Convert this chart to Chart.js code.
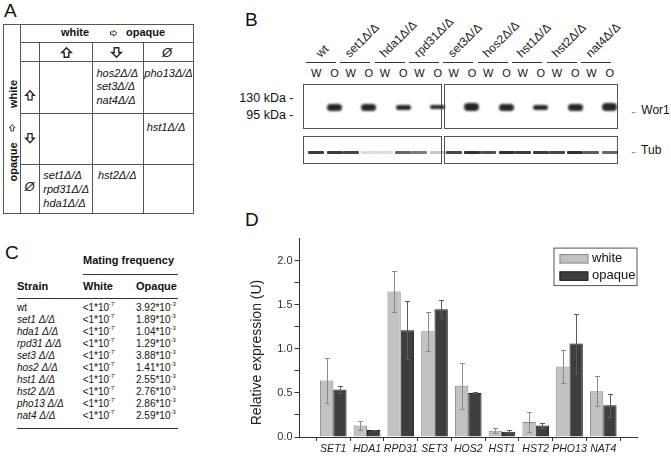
<!DOCTYPE html>
<html><head><meta charset="utf-8">
<script src="https://cdn.jsdelivr.net/npm/chart.js@4.4.1/dist/chart.umd.min.js"></script>
<style>
html,body{margin:0;padding:0;background:#fff;}
body{width:671px;height:460px;position:relative;overflow:hidden;font-family:"Liberation Sans",Arial,sans-serif;color:#111;}
.t{position:absolute;white-space:nowrap;line-height:1;}
.ln{position:absolute;background:#555;}
.box{position:absolute;border:1px solid #555;box-sizing:border-box;background:#fff;}
.band{position:absolute;background:#262626;border-radius:4px;filter:blur(0.9px);}
svg.ar{position:absolute;overflow:visible;}
sup{font-size:6px;vertical-align:5px;line-height:0;}
</style></head><body>
<div id="chartWrap" style="position:absolute;left:240px;top:230px;width:431px;height:230px;"><canvas id="c" width="431" height="230"></canvas></div>
<script>
// ---------- Panel D data ----------
const categories = ['SET1','HDA1','RPD31','SET3','HOS2','HST1','HST2','PHO13','NAT4'];
const whiteMean  = [0.64, 0.13, 1.65, 1.20, 0.58, 0.07, 0.17, 0.80, 0.52];
const whiteErr   = [0.26, 0.05, 0.23, 0.22, 0.26, 0.03, 0.11, 0.19, 0.17];
const opaqueMean = [0.54, 0.08, 1.21, 1.45, 0.50, 0.06, 0.13, 1.06, 0.36];
const opaqueErr  = [0.04, 0.005, 0.33, 0.10, 0.005, 0.015, 0.025, 0.33, 0.13];
const seriesNames = ['white', 'opaque'];
const yTitle = 'Relative expression (U)';

// ---------- Panel C data ----------
const matingStrains = ['wt','set1','hda1','rpd31','set3','hos2','hst1','hst2','pho13','nat4'];
const matingOpaque  = ['3.92','1.89','1.04','1.29','3.88','1.41','2.55','2.76','2.86','2.59'];

// ---------- Panel B data ----------
const blotStrains = ['wt','set1\u0394/\u0394','hda1\u0394/\u0394','rpd31\u0394/\u0394','set3\u0394/\u0394','hos2\u0394/\u0394','hst1\u0394/\u0394','hst2\u0394/\u0394','nat4\u0394/\u0394'];
const wor1Thick = [7, 7, 5, 4, 8, 7, 5, 7, 8];
const tubW = [0.9, 0.85, 0.15, 0.6, 0.85, 0.8, 0.9, 0.85, 0.75];
const tubO = [0.9, 0.15, 0.7, 0.25, 0.95, 0.95, 0.9, 0.95, 0.7];

const FONT = '"Liberation Sans", Arial, sans-serif';
function txt(s, x, cy, o = {}) {
  const d = document.createElement('div');
  d.className = 't';
  const fs = o.size || 11;
  d.style.fontSize = fs + 'px';
  d.style.top = (cy - fs * 0.52) + 'px';
  d.style.left = x + 'px';
  if (o.align === 'right') d.style.transform = 'translateX(-100%)';
  if (o.align === 'center') d.style.transform = 'translateX(-50%)';
  if (o.rot) { d.style.top = cy + 'px'; d.style.transform = 'translate(-50%,-50%) rotate(' + o.rot + 'deg)'; }
  if (o.bold) d.style.fontWeight = 'bold';
  if (o.italic) d.style.fontStyle = 'italic';
  if (o.color) d.style.color = o.color;
  if (o.html) d.innerHTML = s; else d.textContent = s;
  document.body.appendChild(d);
  return d;
}
function hline(x1, x2, y, c) { const d = document.createElement('div'); d.className = 'ln'; Object.assign(d.style, {left: x1 + 'px', top: y + 'px', width: (x2 - x1) + 'px', height: '1px'}); if (c) d.style.background = c; document.body.appendChild(d); }
function vline(x, y1, y2, c) { const d = document.createElement('div'); d.className = 'ln'; Object.assign(d.style, {left: x + 'px', top: y1 + 'px', width: '1px', height: (y2 - y1) + 'px'}); if (c) d.style.background = c; document.body.appendChild(d); }
function box(x1, y1, x2, y2) { const d = document.createElement('div'); d.className = 'box'; Object.assign(d.style, {left: x1 + 'px', top: y1 + 'px', width: (x2 - x1) + 'px', height: (y2 - y1) + 'px'}); document.body.appendChild(d); }
// outlined block arrow (symbol), dir: 0=up, 180=down, 90=right
function arrow(cx, cy, w, h, dir) {
  const ns = 'http://www.w3.org/2000/svg';
  const s = document.createElementNS(ns, 'svg');
  s.setAttribute('class', 'ar'); s.setAttribute('width', w); s.setAttribute('height', h);
  s.style.left = (cx - w / 2) + 'px'; s.style.top = (cy - h / 2) + 'px';
  s.setAttribute('viewBox', '0 0 12 12');
  s.setAttribute('preserveAspectRatio', 'none');
  const p = document.createElementNS(ns, 'polygon');
  p.setAttribute('points', '6,0.8 11.2,6 8.5,6 8.5,11.2 3.5,11.2 3.5,6 0.8,6');
  p.setAttribute('fill', '#fff'); p.setAttribute('stroke', '#222'); p.setAttribute('stroke-width', '1.5');
  p.setAttribute('stroke-linejoin', 'miter');
  p.setAttribute('transform', 'rotate(' + dir + ' 6 6)');
  s.appendChild(p);
  document.body.appendChild(s);
}

// Panel letters
txt('A', 4, 11, {size: 19});
txt('B', 245, 20, {size: 19});
txt('C', 5, 253, {size: 19});
txt('D', 245, 220, {size: 19});

// ---------- Panel A ----------
box(3, 24, 194, 214);
vline(20, 24, 213); hline(20, 193, 42);
[61, 113, 164].forEach(y => hline(20, 193, y));
[39, 92, 143].forEach(x => vline(x, 42, 213));
txt('white', 61, 33, {bold: true});
arrow(113.7, 33, 7.5, 6.5, 90);
txt('opaque', 126, 33, {bold: true});
txt('white', 12.7, 94, {bold: true, rot: -90});
arrow(12.7, 127.5, 6.5, 7.5, 0);
txt('opaque', 12.7, 161.5, {bold: true, rot: -90});
arrow(66.7, 52, 11, 11, 0);
arrow(116.7, 52, 11, 11, 180);
txt('\u00D8', 167, 52.5, {size: 13, italic: true, align: 'center'});
arrow(29.5, 95, 10, 10.5, 0);
arrow(29.5, 138, 10, 10.5, 180);
txt('\u00D8', 29.5, 187, {size: 13, italic: true, align: 'center'});
const D = '\u0394/\u0394';
[['hos2', 73.3], ['set3', 87], ['nat4', 100.3]].forEach(([s, y]) => txt(s + D, 96.5, y, {italic: true}));
txt('pho13' + D, 144.3, 73.3, {italic: true});
txt('hst1' + D, 146.7, 127.7, {italic: true});
[['set1', 175.7], ['rpd31', 189.7], ['hda1', 203.3]].forEach(([s, y]) => txt(s + D, 43.3, y, {italic: true}));
txt('hst2' + D, 98, 175.7, {italic: true});

// ---------- Panel C ----------
txt('Mating frequency', 83, 260.7, {bold: true});
hline(83, 178, 274, '#333');
txt('Strain', 17, 286.7, {bold: true});
txt('White', 83, 286.7, {bold: true});
txt('Opaque', 136, 286.7, {bold: true});
hline(17, 178, 297.5, '#333');
matingStrains.forEach((s, i) => {
  const y = 308.5 + 11.93 * i;
  if (s === 'wt') txt(s, 17, y, {size: 10});
  else txt(s + ' ' + D, 17, y, {size: 10, italic: true});
  txt('&lt;1*10<sup>-7</sup>', 82.7, y, {size: 10, html: true});
  txt(matingOpaque[i] + '*10<sup>-3</sup>', 136, y, {size: 10, html: true});
});
hline(17, 178, 428.3, '#333');

// ---------- Panel B ----------
txt('130 kDa -', 293.5, 98.3, {align: 'right', size: 12.5});
txt('95 kDa -', 293.5, 115, {align: 'right', size: 12.5});
box(302.5, 84, 442, 128.5);
box(444, 84, 617.5, 128.5);
box(302.5, 135.5, 442, 163.5);
box(444, 135.5, 617.5, 163.5);
blotStrains.forEach((s, i) => {
  const gs = 305.7 + 34.4 * i;
  hline(gs, gs + 30, 62.3, '#333');
  const lab = txt(s, 0, 0, {size: 12, color: '#222'});
  lab.style.left = (gs + (i === 0 ? 15 : 10)) + 'px';
  lab.style.top = (58 - 12 * 0.85) + 'px';
  lab.style.transformOrigin = '0% 85%';
  lab.style.transform = 'rotate(-45deg)';
  txt('W', gs + 10.5, 73.3, {align: 'center'});
  txt('O', gs + 28.8, 73.3, {align: 'center'});
  // Wor1 band in opaque lane
  const b = document.createElement('div'); b.className = 'band';
  const h = wor1Thick[i];
  Object.assign(b.style, {left: (gs + 21) + 'px', top: (107.3 - h / 2) + 'px', width: '15px', height: h + 'px'});
  document.body.appendChild(b);
  // Tub bands
  [[tubW[i], gs + 10.5], [tubO[i], gs + 28.8]].forEach(([a, cx]) => {
    const t = document.createElement('div'); t.className = 'band';
    Object.assign(t.style, {left: (cx - 8) + 'px', top: '151px', width: '16px', height: '3px', opacity: a, borderRadius: '1px', filter: 'blur(0.5px)'});
    document.body.appendChild(t);
  });
});
txt('<span style="font-size:8px">\u2190</span> Wor1', 630, 110, {html: true, size: 12});
txt('<span style="font-size:8px">\u2190</span> Tub', 630, 150, {html: true, size: 12});

// ---------- Panel D (Chart.js) ----------
Chart.defaults.font.family = FONT;
const errorBars = {
  id: 'errorBars',
  afterDatasetsDraw(chart) {
    const ctx = chart.ctx, ys = chart.scales.y;
    chart.data.datasets.forEach((ds, di) => {
      const meta = chart.getDatasetMeta(di);
      ctx.save();
      ctx.strokeStyle = ds.errColor; ctx.lineWidth = 1;
      meta.data.forEach((el, i) => {
        const v = ds.data[i], e = ds.err[i];
        if (v == null || e == null) return;
        const x = Math.round(el.x) + 0.5;
        const yt = Math.round(ys.getPixelForValue(v + e)) + 0.5;
        const yb = Math.round(ys.getPixelForValue(v - e)) + 0.5;
        ctx.beginPath();
        ctx.moveTo(x, yt); ctx.lineTo(x, yb);
        ctx.moveTo(x - 2.5, yt); ctx.lineTo(x + 2.5, yt);
        ctx.moveTo(x - 2.5, yb); ctx.lineTo(x + 2.5, yb);
        ctx.stroke();
      });
      ctx.restore();
    });
  }
};
const legendBox = {
  id: 'legendBox',
  afterDraw(chart) {
    const ctx = chart.ctx, a = chart.chartArea;
    const bx = a.right - 83.5, by = a.top + 9;
    ctx.save();
    ctx.fillStyle = '#fff'; ctx.fillRect(bx, by, 83, 37.5);
    ctx.strokeStyle = '#555'; ctx.lineWidth = 1;
    ctx.strokeRect(bx + 0.5, by + 0.5, 83, 37.5);
    chart.data.datasets.forEach((ds, i) => {
      const sy = by + 6.5 + i * 17.3;
      ctx.fillStyle = ds.backgroundColor; ctx.fillRect(bx + 6, sy, 28.5, 9);
      ctx.strokeStyle = ds.borderColor; ctx.strokeRect(bx + 6.5, sy + 0.5, 28, 8.5);
      ctx.fillStyle = '#111'; ctx.font = '13px ' + FONT; ctx.textBaseline = 'middle';
      ctx.fillText(ds.label, bx + 38.5, sy + 4.5);
    });
    ctx.restore();
  }
};
const yTitlePlugin = {
  id: 'yTitle',
  afterDraw(chart) {
    const ctx = chart.ctx, a = chart.chartArea;
    ctx.save();
    ctx.translate(16.7, a.bottom - 84.5);
    ctx.rotate(-Math.PI / 2);
    ctx.font = '14px ' + FONT; ctx.fillStyle = '#222';
    ctx.textAlign = 'center'; ctx.textBaseline = 'middle';
    ctx.fillText(yTitle, 0, 0);
    ctx.restore();
  }
};
new Chart(document.getElementById('c'), {
  type: 'bar',
  data: {
    labels: ['', ...categories, ''],
    datasets: [
      {label: seriesNames[0], data: [null, ...whiteMean, null], err: [null, ...whiteErr, null],
       backgroundColor: '#c2c2c2', borderColor: '#888888', borderWidth: 1, errColor: '#8a8a8a'},
      {label: seriesNames[1], data: [null, ...opaqueMean, null], err: [null, ...opaqueErr, null],
       backgroundColor: '#3e3e3e', borderColor: '#1e1e1e', borderWidth: 1, errColor: '#5a5a5a'}
    ]
  },
  options: {
    responsive: false, animation: false, devicePixelRatio: 1,
    layout: {padding: {top: 6, right: 34, left: 0, bottom: 0}},
    datasets: {bar: {categoryPercentage: 0.79, barPercentage: 1.0, borderSkipped: 'start'}},
    plugins: {legend: {display: false}, tooltip: {enabled: false}},
    scales: {
      x: {
        type: 'category', offset: false,
        grid: {display: true, drawOnChartArea: false, drawTicks: true, tickLength: 4, offset: true, color: '#333'},
        border: {display: true, color: '#333', width: 1},
        ticks: {font: {size: 10.5, style: 'italic'}, color: '#222', padding: 2, maxRotation: 0, autoSkip: false},
        afterFit(s) { s.height = 23; }
      },
      y: {
        min: 0, max: 2.25,
        grid: {display: true, drawOnChartArea: false, drawTicks: true, tickLength: 5, color: '#333'},
        border: {display: true, color: '#333', width: 1},
        ticks: {stepSize: 0.25, autoSkip: false, font: {size: 11}, color: '#333', padding: 2,
          callback: v => (Math.round(v * 100) % 50 === 0) ? v.toFixed(1) : ''},
        afterBuildTicks(s) { s.ticks = s.ticks.filter(t => t.value <= 2.0001); },
        afterFit(s) { s.width = 59.5; }
      }
    }
  },
  plugins: [errorBars, legendBox, yTitlePlugin]
});
</script>
</body></html>
